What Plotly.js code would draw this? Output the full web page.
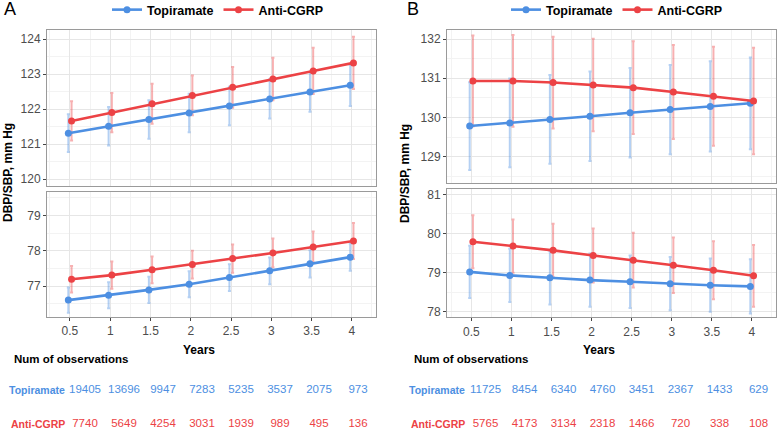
<!DOCTYPE html>
<html>
<head>
<meta charset="utf-8">
<script src="https://cdn.plot.ly/plotly-3.0.1.min.js"></script>
<style>
  html, body { margin: 0; padding: 0; background: #fff; }
  #chart { width: 777px; height: 429px; }
</style>
</head>
<body>
<div id="chart"></div>
<script>
const years = [0.5, 1, 1.5, 2, 2.5, 3, 3.5, 4];

// Panel A
const sbpTopA = [121.31, 121.51, 121.70, 121.89, 122.09, 122.29, 122.49, 122.68];
const sbpTopAErr = [0.54, 0.55, 0.55, 0.55, 0.55, 0.56, 0.57, 0.59];
const sbpCgrpA = [121.66, 121.90, 122.15, 122.39, 122.62, 122.86, 123.09, 123.32];
const sbpCgrpAErr = [0.56, 0.56, 0.57, 0.57, 0.58, 0.61, 0.66, 0.75];
const dbpTopA = [76.60, 76.74, 76.89, 77.05, 77.24, 77.43, 77.63, 77.82];
const dbpTopAErr = [0.36, 0.37, 0.375, 0.37, 0.38, 0.38, 0.385, 0.39];
const dbpCgrpA = [77.19, 77.31, 77.46, 77.61, 77.78, 77.94, 78.11, 78.28];
const dbpCgrpAErr = [0.375, 0.385, 0.38, 0.395, 0.40, 0.41, 0.44, 0.51];
const nTopA = [19405, 13696, 9947, 7283, 5235, 3537, 2075, 973];
const nCgrpA = [7740, 5649, 4254, 3031, 1939, 989, 495, 136];

// Panel B
const sbpTopB = [129.78, 129.86, 129.95, 130.03, 130.12, 130.20, 130.28, 130.36];
const sbpTopBErr = [1.12, 1.13, 1.13, 1.14, 1.14, 1.14, 1.15, 1.17];
const sbpCgrpB = [130.93, 130.93, 130.89, 130.83, 130.76, 130.65, 130.54, 130.42];
const sbpCgrpBErr = [1.16, 1.17, 1.17, 1.18, 1.18, 1.20, 1.26, 1.36];
const dbpTopB = [79.02, 78.93, 78.87, 78.81, 78.77, 78.72, 78.68, 78.65];
const dbpTopBErr = [0.67, 0.68, 0.68, 0.68, 0.67, 0.68, 0.68, 0.69];
const dbpCgrpB = [79.79, 79.68, 79.57, 79.44, 79.32, 79.19, 79.06, 78.92];
const dbpCgrpBErr = [0.68, 0.68, 0.68, 0.69, 0.70, 0.71, 0.74, 0.79];
const nTopB = [11725, 8454, 6340, 4760, 3451, 2367, 1433, 629];
const nCgrpB = [5765, 4173, 3134, 2318, 1466, 720, 338, 108];

const groups = ["Topiramate", "Anti-CGRP"];

const BLUE = "#4d8fe2";
const RED = "#ec4245";
const BLUE_ERR = "rgba(77,143,226,0.42)";
const RED_ERR = "rgba(236,66,69,0.42)";
const FONT = "Liberation Sans, Arial, sans-serif";

const dodge = 0.02;
const xBlue = years.map(v => v - dodge);
const xRed = years.map(v => v + dodge);

function errTrace(x, y, err, color, xa, ya) {
    return {
        x, y, xaxis: xa, yaxis: ya,
        type: "scatter", mode: "markers",
        marker: { size: 1, color: "rgba(0,0,0,0)" },
        error_y: { type: "data", array: err, visible: true, color, thickness: 2, width: 1.5 },
        showlegend: false, hoverinfo: "skip"
    };
}

function lineTrace(x, y, color, name, xa, ya, legend, show) {
    return {
        x, y, xaxis: xa, yaxis: ya, name,
        type: "scatter", mode: "lines+markers",
        line: { color, width: 2.6 },
        marker: { color, size: 7 },
        legend, showlegend: show
    };
}

const traces = [
    errTrace(xBlue, sbpTopA, sbpTopAErr, BLUE_ERR, "x", "y"),
    errTrace(xRed, sbpCgrpA, sbpCgrpAErr, RED_ERR, "x", "y"),
    errTrace(xBlue, dbpTopA, dbpTopAErr, BLUE_ERR, "x2", "y2"),
    errTrace(xRed, dbpCgrpA, dbpCgrpAErr, RED_ERR, "x2", "y2"),
    errTrace(xBlue, sbpTopB, sbpTopBErr, BLUE_ERR, "x3", "y3"),
    errTrace(xRed, sbpCgrpB, sbpCgrpBErr, RED_ERR, "x3", "y3"),
    errTrace(xBlue, dbpTopB, dbpTopBErr, BLUE_ERR, "x4", "y4"),
    errTrace(xRed, dbpCgrpB, dbpCgrpBErr, RED_ERR, "x4", "y4"),

    lineTrace(xBlue, sbpTopA, BLUE, groups[0], "x", "y", "legend", true),
    lineTrace(xRed, sbpCgrpA, RED, groups[1], "x", "y", "legend", true),
    lineTrace(xBlue, dbpTopA, BLUE, groups[0], "x2", "y2", "legend", false),
    lineTrace(xRed, dbpCgrpA, RED, groups[1], "x2", "y2", "legend", false),
    lineTrace(xBlue, sbpTopB, BLUE, groups[0], "x3", "y3", "legend2", true),
    lineTrace(xRed, sbpCgrpB, RED, groups[1], "x3", "y3", "legend2", true),
    lineTrace(xBlue, dbpTopB, BLUE, groups[0], "x4", "y4", "legend2", false),
    lineTrace(xRed, dbpCgrpB, RED, groups[1], "x4", "y4", "legend2", false)
];

// observation count tables
function countTrace(counts, row, color, xa, ya) {
    return {
        x: years, y: years.map(() => row), xaxis: xa, yaxis: ya,
        type: "scatter", mode: "text",
        text: counts.map(String),
        textposition: "middle center",
        textfont: { family: FONT, size: 11.5, color },
        showlegend: false, hoverinfo: "skip"
    };
}
traces.push(
    countTrace(nTopA, 2, BLUE, "x5", "y5"),
    countTrace(nCgrpA, 1, RED, "x5", "y5"),
    countTrace(nTopB, 2, BLUE, "x6", "y6"),
    countTrace(nCgrpB, 1, RED, "x6", "y6")
);

const H = 429, W = 777;
const py = (top, bottom) => [1 - bottom / H, 1 - top / H];
const px = (left, right) => [left / W, right / W];

const grid = {
    showgrid: true, gridcolor: "#e6e6e6", gridwidth: 1,
    zeroline: false, showline: true, mirror: true, linecolor: "#9a9a9a", linewidth: 1,
    ticks: "outside", ticklen: 3, tickcolor: "#444",
    tickfont: { family: FONT, size: 12, color: "#4d4d4d" }
};

function xAxis(domain, range, labels, anchor) {
    return Object.assign({}, grid, {
        domain, range, anchor, tickvals: years,
        ticktext: years.map(String),
        showticklabels: labels, ticks: labels ? "outside" : "",
        minor: { dtick: 0.25, tick0: 0, showgrid: true, gridcolor: "#f3f3f3" }
    });
}
function yAxis(domain, range, dtick, anchor) {
    return Object.assign({}, grid, {
        domain, range, dtick, anchor,
        minor: { dtick: dtick / 2, showgrid: true, gridcolor: "#f3f3f3" }
    });
}
const hidden = { showgrid: false, zeroline: false, showticklabels: false, showline: false, ticks: "" };

const annText = (text, x, y, opts) => Object.assign({
    text, x, y, xref: "paper", yref: "paper", showarrow: false,
    font: { family: FONT, size: 12, color: "#000" }
}, opts);

const legendStyle = {
    orientation: "h", xanchor: "center", y: 1 + 5 / 429, yanchor: "top",
    font: { family: FONT, size: 12.5, color: "#000", weight: "bold" },
    itemwidth: 30, bgcolor: "rgba(0,0,0,0)", tracegroupgap: 0
};

const layout = {
    width: W, height: H,
    margin: { l: 0, r: 0, t: 0, b: 0, autoexpand: false },
    paper_bgcolor: "#fff", plot_bgcolor: "#fff",
    xaxis: xAxis(px(47, 376), [0.215, 4.30], false, "y"),
    yaxis: yAxis(py(30, 186), [119.8, 124.26], 1, "x"),
    xaxis2: xAxis(px(47, 376), [0.215, 4.30], true, "y2"),
    yaxis2: yAxis(py(192, 317), [76.12, 79.67], 1, "x2"),
    xaxis3: xAxis(px(447, 776), [0.197, 4.30], false, "y3"),
    yaxis3: yAxis(py(30, 183.3), [128.32, 132.23], 1, "x3"),
    xaxis4: xAxis(px(447, 776), [0.197, 4.30], true, "y4"),
    yaxis4: yAxis(py(189.3, 317.3), [77.86, 81.13], 1, "x4"),
    xaxis5: Object.assign({ domain: [0, 0.5], range: [-0.590, 4.391], anchor: "y5" }, hidden),
    yaxis5: Object.assign({ domain: [0, 0.2], range: [0.853, 3.376], anchor: "x5" }, hidden),
    xaxis6: Object.assign({ domain: [0.5, 1], range: [-0.744, 4.237], anchor: "y6" }, hidden),
    yaxis6: Object.assign({ domain: [0, 0.2], range: [0.853, 3.376], anchor: "x6" }, hidden),
    legend: Object.assign({ x: 218 / W }, legendStyle),
    legend2: Object.assign({ x: 617 / W }, legendStyle),
    annotations: [
        annText("A", 2 / W, 1 - 9 / H, { xanchor: "left", yanchor: "middle", font: { family: FONT, size: 18, color: "#000" } }),
        annText("B", 405 / W, 1 - 9 / H, { xanchor: "left", yanchor: "middle", font: { family: FONT, size: 18, color: "#000" } }),
        annText("<b>DBP/SBP, mm Hg</b>", 8 / W, 1 - 173 / H, { textangle: -90, xanchor: "center", yanchor: "middle" }),
        annText("<b>DBP/SBP, mm Hg</b>", 405 / W, 1 - 173 / H, { textangle: -90, xanchor: "center", yanchor: "middle" }),
        annText("<b>Years</b>", 199 / W, 1 - 350 / H, { xanchor: "center", yanchor: "middle" }),
        annText("<b>Years</b>", 599 / W, 1 - 350 / H, { xanchor: "center", yanchor: "middle" }),
        annText("<b>Num of observations</b>", 12 / W, 1 - 359 / H, { xanchor: "left", yanchor: "middle", font: { family: FONT, size: 11.5, color: "#000" } }),
        annText("<b>Num of observations</b>", 412 / W, 1 - 359 / H, { xanchor: "left", yanchor: "middle", font: { family: FONT, size: 11.5, color: "#000" } }),
        annText("<b>" + groups[0] + "</b>", 67 / W, 1 - 390 / H, { xanchor: "right", yanchor: "middle", font: { family: FONT, size: 10.5, color: BLUE } }),
        annText("<b>" + groups[1] + "</b>", 67 / W, 1 - 424 / H, { xanchor: "right", yanchor: "middle", font: { family: FONT, size: 10.5, color: RED } }),
        annText("<b>" + groups[0] + "</b>", 467 / W, 1 - 390 / H, { xanchor: "right", yanchor: "middle", font: { family: FONT, size: 10.5, color: BLUE } }),
        annText("<b>" + groups[1] + "</b>", 467 / W, 1 - 424 / H, { xanchor: "right", yanchor: "middle", font: { family: FONT, size: 10.5, color: RED } })
    ]
};

Plotly.newPlot("chart", traces, layout, { displayModeBar: false, staticPlot: true });
</script>
</body>
</html>
